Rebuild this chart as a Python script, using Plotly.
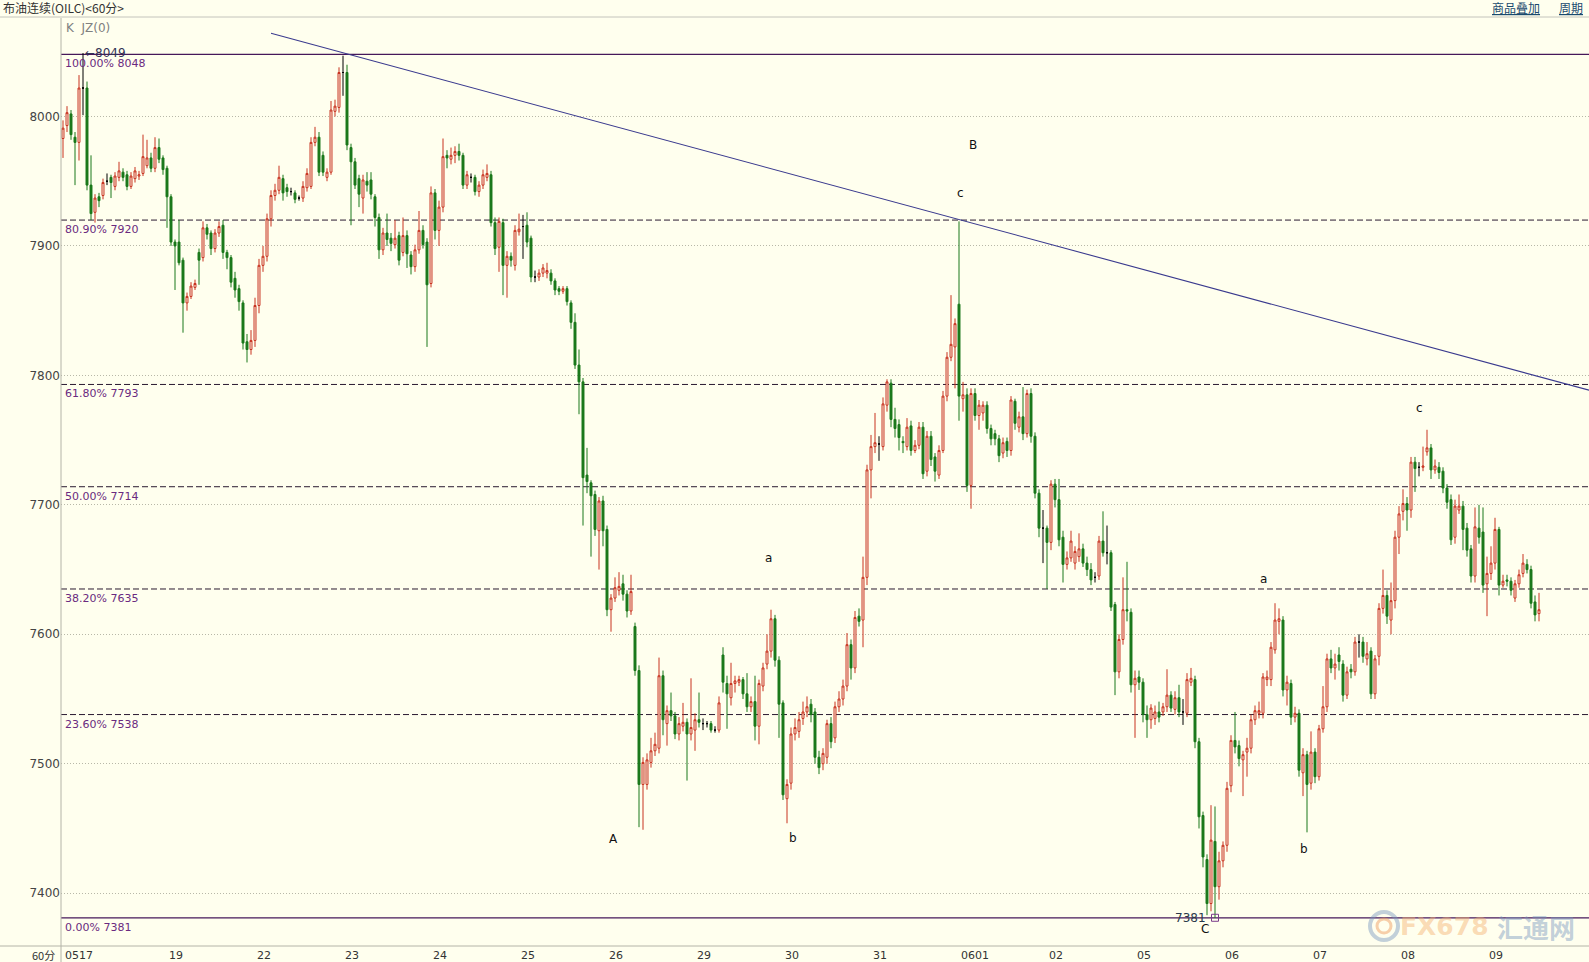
import plotly.graph_objects as go

# ---------------- data (hourly candles, index = bar number) ----------------
opens = [
 7983,7993,8002,7984,7980,8022,8022,7947,7926,7938, 7939,7950,7953,7946,7953,7957,7955,7946,7952,7954,
 7956,7962,7968,7960,7976,7968,7960,7938,7903,7903, 7889,7856,7861,7868,7895,7891,7914,7910,7898,7910,
 7916,7895,7891,7875,7867,7856,7826,7820,7827,7854, 7885,7892,7921,7939,7943,7952,7945,7942,7941,7937,
 7937,7945,7946,7980,7984,7970,7953,7957,8004,8007, 8034,8034,7976,7965,7952,7937,7950,7951,7938,7922,
 7897,7910,7906,7901,7908,7895,7908,7893,7884,7897, 7912,7903,7871,7941,7912,7930,7970,7967,7970,7973,
 7970,7947,7953,7953,7942,7947,7953,7955,7918,7899, 7918,7885,7892,7885,7911,7915,7916,7906,7876,7876,
 7879,7879,7879,7873,7867,7865,7867,7856,7841,7808, 7795,7723,7717,7708,7680,7703,7681,7619,7628,7634,
 7639,7631,7618,7606,7572,7484,7484,7501,7510,7512, 7568,7531,7541,7537,7523,7529,7532,7523,7526,7534,
 7531,7531,7531,7526,7526,7584,7562,7551,7562,7563, 7565,7554,7544,7548,7529,7560,7577,7587,7612,7580,
 7547,7473,7485,7523,7525,7535,7540,7546,7540,7505, 7500,7505,7531,7520,7544,7550,7560,7592,7574,7614,
 7611,7644,7727,7745,7747,7745,7777,7794,7766,7762, 7749,7745,7761,7742,7746,7760,7726,7753,7737,7723,
 7742,7784,7814,7822,7855,7782,7785,7715,7786,7769, 7771,7777,7759,7755,7751,7740,7749,7742,7780,7760,
 7768,7755,7786,7753,7709,7682,7682,7671,7716,7704, 7675,7654,7659,7655,7660,7666,7655,7650,7644,7645,
 7672,7663,7663,7623,7571,7596,7619,7617,7561,7567, 7563,7538,7534,7535,7540,7540,7544,7553,7542,7551,
 7540,7539,7563,7565,7517,7460,7426,7392,7440,7405, 7425,7437,7483,7518,7514,7503,7509,7512,7534,7539,
 7539,7565,7565,7588,7610,7611,7557,7562,7536,7539, 7493,7507,7485,7509,7490,7527,7544,7581,7574,7584,
 7577,7553,7573,7571,7594,7594,7581,7587,7554,7583, 7620,7630,7611,7626,7675,7695,7701,7696,7733,7729,
 7729,7741,7744,7727,7729,7726,7713,7704,7675,7696, 7699,7682,7666,7645,7682,7679,7639,7647,7655,7681,
 7638,7642,7641,7628,7639,7647,7654,7650,7625,7616]
highs = [
 7997,8008,8005,7988,8032,8049,8027,7970,7940,7941, 7952,7956,7955,7957,7965,7960,7958,7957,7961,7958,
 7986,7982,7972,7984,7983,7970,7962,7940,7905,7920, 7891,7864,7872,7874,7898,7919,7917,7912,7913,7919,
 7920,7897,7893,7880,7870,7858,7832,7835,7860,7890, 7900,7925,7943,7948,7962,7955,7948,7945,7943,7939,
 7950,7960,7984,7992,7988,7973,7960,8012,8013,8038, 8047,8040,7979,7968,7955,7955,7957,7957,7940,7925,
 7914,7925,7910,7920,7911,7922,7912,7896,7901,7927, 7916,7906,7946,7944,7935,7983,7974,7976,7977,7979,
 7972,7958,7956,7955,7950,7959,7963,7958,7922,7922, 7921,7896,7895,7916,7925,7924,7926,7908,7881,7882,
 7886,7887,7882,7875,7869,7869,7869,7858,7848,7820, 7798,7744,7719,7711,7706,7707,7684,7631,7644,7648,
 7646,7634,7646,7609,7576,7505,7508,7520,7524,7582, 7572,7545,7555,7540,7536,7547,7535,7566,7539,7555,
 7535,7533,7533,7529,7552,7590,7568,7578,7568,7568, 7567,7570,7552,7568,7565,7578,7600,7619,7615,7583,
 7549,7488,7528,7535,7540,7548,7552,7550,7543,7510, 7512,7534,7536,7548,7556,7565,7601,7596,7618,7620,
 7660,7731,7754,7771,7753,7783,7797,7797,7775,7766, 7753,7767,7765,7750,7764,7764,7757,7757,7740,7746,
 7788,7818,7862,7844,7919,7795,7790,7790,7790,7781, 7780,7780,7762,7758,7754,7752,7752,7784,7782,7772,
 7791,7789,7790,7756,7712,7696,7684,7719,7720,7720, 7680,7664,7680,7668,7678,7670,7660,7655,7648,7676,
 7695,7684,7665,7625,7600,7644,7656,7620,7572,7572, 7566,7545,7546,7545,7548,7547,7573,7556,7556,7561,
 7550,7570,7574,7568,7520,7463,7430,7468,7467,7432, 7440,7486,7522,7540,7518,7510,7520,7538,7545,7548,
 7570,7572,7594,7624,7620,7614,7568,7565,7544,7542, 7512,7510,7525,7512,7530,7560,7585,7588,7585,7590,
 7580,7575,7577,7598,7600,7598,7594,7590,7584,7624, 7650,7634,7640,7680,7699,7712,7706,7737,7737,7733,
 7745,7758,7747,7735,7733,7729,7716,7708,7704,7708, 7703,7686,7669,7698,7700,7698,7660,7668,7690,7683,
 7646,7646,7644,7642,7650,7662,7658,7653,7630,7632]
lows = [
 7968,7988,7982,7947,7966,8001,7943,7920,7918,7930, 7936,7947,7937,7943,7950,7950,7943,7944,7949,7951,
 7954,7960,7957,7957,7964,7955,7914,7900,7866,7885, 7833,7850,7859,7866,7870,7888,7905,7893,7895,7907,
 7890,7882,7868,7860,7850,7820,7810,7816,7822,7848, 7880,7888,7915,7935,7940,7935,7938,7939,7933,7935,
 7934,7942,7944,7977,7954,7954,7950,7955,8000,8003, 8016,7974,7916,7944,7930,7925,7942,7936,7915,7890,
 7893,7900,7896,7898,7885,7892,7883,7878,7880,7894, 7898,7822,7868,7905,7900,7926,7960,7963,7964,7966,
 7944,7944,7949,7939,7938,7944,7950,7915,7893,7880, 7862,7860,7884,7881,7908,7890,7899,7872,7872,7873,
 7876,7875,7870,7862,7862,7863,7854,7836,7805,7770, 7684,7709,7660,7676,7650,7668,7614,7602,7625,7630,
 7626,7613,7615,7568,7451,7449,7480,7497,7506,7508, 7522,7514,7533,7519,7518,7525,7487,7518,7510,7528,
 7526,7528,7524,7524,7524,7555,7527,7545,7555,7560, 7550,7540,7540,7518,7515,7556,7573,7582,7575,7520,
 7472,7454,7480,7518,7520,7530,7536,7532,7500,7492, 7495,7500,7512,7516,7540,7545,7556,7565,7570,7606,
 7590,7638,7705,7740,7734,7742,7772,7760,7752,7742, 7740,7742,7738,7740,7743,7720,7722,7730,7718,7720,
 7740,7780,7811,7790,7765,7772,7710,7697,7765,7758, 7765,7755,7746,7746,7733,7736,7737,7738,7758,7756,
 7750,7752,7748,7705,7675,7655,7635,7665,7698,7668, 7640,7650,7656,7650,7656,7652,7645,7638,7640,7642,
 7660,7654,7618,7553,7566,7592,7610,7555,7520,7557, 7532,7520,7527,7530,7532,7537,7540,7540,7538,7536,
 7530,7536,7560,7512,7450,7420,7383,7386,7381,7395, 7420,7432,7478,7508,7498,7475,7490,7508,7530,7535,
 7535,7560,7560,7585,7600,7552,7545,7530,7532,7490, 7475,7447,7480,7485,7487,7524,7540,7570,7565,7572,
 7548,7550,7566,7568,7582,7578,7576,7550,7550,7576, 7616,7608,7600,7620,7662,7688,7680,7690,7710,7722,
 7726,7738,7720,7724,7720,7709,7697,7669,7670,7693, 7665,7660,7640,7640,7670,7632,7614,7642,7650,7630,
 7636,7637,7630,7625,7636,7644,7647,7620,7610,7610]
closes = [
 7991,8003,7986,7980,8022,8022,7947,7925,7937,7935, 7949,7950,7949,7954,7958,7953,7946,7954,7958,7955,
 7969,7968,7960,7976,7967,7959,7938,7903,7900,7887, 7856,7861,7869,7871,7889,7914,7909,7898,7910,7915,
 7895,7891,7872,7866,7857,7825,7820,7827,7854,7885, 7892,7921,7939,7943,7953,7941,7942,7942,7936,7937,
 7946,7956,7980,7984,7957,7957,7957,8005,8008,8034, 8034,7978,7965,7947,7940,7951,7947,7940,7922,7897,
 7910,7905,7902,7906,7889,7908,7894,7884,7897,7912, 7901,7870,7941,7912,7930,7969,7968,7970,7973,7970,
 7947,7955,7953,7942,7947,7955,7956,7918,7898,7919, 7885,7892,7889,7912,7913,7915,7903,7876,7876,7879,
 7883,7881,7873,7866,7865,7867,7857,7841,7808,7795, 7721,7718,7707,7681,7703,7680,7619,7628,7636,7637,
 7631,7618,7633,7572,7484,7501,7503,7510,7515,7568, 7534,7541,7537,7523,7531,7532,7523,7528,7534,7532,
 7531,7531,7526,7526,7547,7563,7554,7562,7564,7565, 7554,7544,7548,7529,7562,7574,7587,7612,7580,7546,
 7476,7484,7523,7528,7534,7540,7544,7538,7505,7497, 7508,7531,7517,7544,7550,7560,7592,7574,7613,7610,
 7644,7727,7745,7748,7747,7778,7795,7766,7759,7752, 7748,7760,7742,7746,7760,7724,7753,7735,7726,7742,
 7784,7814,7824,7840,7784,7785,7715,7786,7769,7777, 7777,7759,7751,7751,7738,7748,7742,7781,7763,7768,
 7755,7786,7753,7709,7682,7682,7671,7716,7704,7673, 7654,7659,7672,7664,7666,7655,7650,7642,7644,7672,
 7663,7663,7621,7571,7596,7619,7618,7561,7566,7563, 7538,7534,7543,7540,7536,7544,7553,7543,7551,7540,
 7540,7565,7566,7517,7459,7428,7392,7441,7405,7425, 7437,7481,7518,7513,7504,7507,7512,7534,7541,7541,
 7567,7567,7590,7611,7612,7557,7563,7536,7539,7495, 7507,7484,7509,7490,7527,7544,7581,7574,7577,7579,
 7553,7571,7571,7594,7594,7583,7585,7554,7581,7620, 7630,7614,7626,7675,7693,7701,7696,7733,7728,7729,
 7730,7744,7727,7730,7725,7713,7702,7673,7699,7699, 7681,7665,7645,7683,7675,7638,7647,7655,7681,7638,
 7641,7641,7634,7639,7646,7655,7650,7624,7615,7619]

day_labels = ["0517", "19", "22", "23", "24", "25", "26", "29", "30", "31",
              "0601", "02", "05", "06", "07", "08", "09"]
day_start = [0, 26, 48, 70, 92, 114, 136, 158, 180, 202, 224, 246, 268, 290, 312, 334, 356]

y_ticks = [7400, 7500, 7600, 7700, 7800, 7900, 8000]

fib_pct = ["100.00%", "80.90%", "61.80%", "50.00%", "38.20%", "23.60%", "0.00%"]
fib_val = [8048, 7920, 7793, 7714, 7635, 7538, 7381]

trend_x = [52.0, 381.5]
trend_y = [8064.3, 7788.6]

wave_text = ["A", "b", "a", "c", "B", "C", "a", "b", "c"]
wave_x = [137.5, 182.4, 176.3, 224.4, 227.5, 285.5, 300.2, 310.3, 339.2]
wave_y = [7442, 7443, 7659, 7941, 7978, 7372, 7643, 7434, 7775]

high_mark = 8049
low_mark = 7381

# ---------------- styling ----------------
BG = "#FFFFEE"
RED = "#c8321f"
GREEN = "#1a781a"
FONT = "DejaVu Sans"
W, H = 1589, 962
L, R, T, B = 61, 0, 18, 16
PW, PH = W - L - R, H - T - B


def px(x):
    return (x - L) / PW


def py(y):
    return (H - B - y) / PH


idx = list(range(len(closes)))
groups = [
    ([i for i in idx if closes[i] > opens[i]], RED, BG),
    ([i for i in idx if closes[i] < opens[i]], GREEN, GREEN),
    ([i for i in idx if closes[i] == opens[i]], "#000000", "#000000"),
]

fig = go.Figure()
for sel, lc, fc in groups:
    fig.add_trace(go.Candlestick(
        x=sel,
        open=[opens[i] for i in sel], high=[highs[i] for i in sel],
        low=[lows[i] for i in sel], close=[closes[i] for i in sel],
        increasing=dict(line=dict(color=lc, width=1), fillcolor=fc),
        decreasing=dict(line=dict(color=lc, width=1), fillcolor=fc),
        whiskerwidth=0, hoverinfo="skip", showlegend=False))

# trend line
fig.add_trace(go.Scatter(x=trend_x, y=trend_y, mode="lines",
                         line=dict(color="#3a3a8e", width=1.1),
                         hoverinfo="skip", showlegend=False))

# low marker
fig.add_trace(go.Scatter(x=[idx[lows.index(min(lows))]], y=[min(lows)], mode="markers",
                         marker=dict(symbol="square-open", size=7, color="#7a3a8a",
                                     line=dict(width=1)),
                         hoverinfo="skip", showlegend=False))

shapes = []
annotations = []

# fib lines
for pct, v in zip(fib_pct, fib_val):
    solid = pct in ("100.00%", "0.00%")
    shapes.append(dict(type="line", xref="paper", yref="y", x0=0, x1=1, y0=v, y1=v,
                       line=dict(color="#46185a" if solid else "#2a1a30",
                                 width=1.2 if solid else 1,
                                 dash="solid" if solid else "6px,3px"),
                       layer="below"))
    annotations.append(dict(x=px(63), xref="paper", y=v, yref="y", xanchor="left",
                            yanchor="top", yshift=-1, showarrow=False,
                            text=f"{pct} {v}",
                            font=dict(family=FONT, size=11, color="#6a2a80")))

# frame lines
shapes.append(dict(type="line", xref="paper", yref="paper", x0=px(0), x1=1, y0=0, y1=0,
                   line=dict(color="#b4b4a8", width=1)))
shapes.append(dict(type="line", xref="paper", yref="paper", x0=0, x1=0, y0=py(H), y1=1,
                   line=dict(color="#b4b4a8", width=1)))
shapes.append(dict(type="line", xref="paper", yref="paper", x0=px(0), x1=1,
                   y0=py(17), y1=py(17), line=dict(color="#c4c4bc", width=1)))

# watermark
shapes.append(dict(type="circle", xref="paper", yref="paper",
                   x0=px(1370), x1=px(1398), y0=py(940), y1=py(912),
                   line=dict(color="rgba(120,150,190,0.45)", width=4)))
shapes.append(dict(type="circle", xref="paper", yref="paper",
                   x0=px(1377), x1=px(1391), y0=py(933), y1=py(919),
                   line=dict(color="rgba(240,160,100,0.5)", width=3)))
annotations.append(dict(x=px(1444), y=py(926), xref="paper", yref="paper", showarrow=False,
                        xanchor="center", yanchor="middle",
                        text="<b>FX678</b>", font=dict(family="DejaVu Sans", size=25,
                                                      color="rgba(245,175,110,0.45)")))
annotations.append(dict(x=px(1536), y=py(926), xref="paper", yref="paper", showarrow=False,
                        xanchor="center", yanchor="middle",
                        text="<b>汇通网</b>", font=dict(family="Noto Sans CJK SC", size=26,
                                                     color="rgba(120,150,190,0.45)")))

# day labels
for lab, d in zip(day_labels, day_start):
    annotations.append(dict(x=d - 0.1, xref="x", y=py(955), yref="paper", xanchor="left",
                            yanchor="middle", showarrow=False, text=lab,
                            font=dict(family=FONT, size=11, color="#333333")))
annotations.append(dict(x=px(30), y=py(955), xref="paper", yref="paper", xanchor="left",
                        yanchor="middle", showarrow=False, text="60分",
                        font=dict(family="Noto Sans CJK SC", size=11, color="#333333")))

# header
annotations.append(dict(x=px(1), y=py(8), xref="paper", yref="paper", xanchor="left",
                        yanchor="middle", showarrow=False, text="布油连续(OILC)<60分>",
                        font=dict(family="Noto Sans CJK SC", size=12, color="#333333")))
annotations.append(dict(x=px(1516), y=py(8), xref="paper", yref="paper", xanchor="center",
                        yanchor="middle", showarrow=False, text="<u>商品叠加</u>",
                        font=dict(family="Noto Sans CJK SC", size=12, color="#1a4a6e")))
annotations.append(dict(x=px(1571), y=py(8), xref="paper", yref="paper", xanchor="center",
                        yanchor="middle", showarrow=False, text="<u>周期</u>",
                        font=dict(family="Noto Sans CJK SC", size=12, color="#1a4a6e")))
annotations.append(dict(x=px(64), y=py(28), xref="paper", yref="paper", xanchor="left",
                        yanchor="middle", showarrow=False, text="K  JZ(0)",
                        font=dict(family=FONT, size=12, color="#808080")))

# high / low value labels
annotations.append(dict(x=5.0, y=8048, xref="x", yref="y", xanchor="left",
                        yanchor="middle", yshift=1, showarrow=False, text="←" + str(high_mark),
                        font=dict(family=FONT, size=12, color="#333355")))
annotations.append(dict(x=286.3, y=low_mark, xref="x", yref="y", xanchor="right",
                        yanchor="middle", showarrow=False, text=str(low_mark),
                        font=dict(family=FONT, size=12, color="#2a3a4a")))

# wave labels
for t, x, y in zip(wave_text, wave_x, wave_y):
    annotations.append(dict(x=x, y=y, xref="x", yref="y", showarrow=False, text=t,
                            font=dict(family=FONT, size=12, color="#111111")))

fig.update_layout(
    width=W, height=H,
    margin=dict(l=L, r=R, t=T, b=B, pad=0),
    paper_bgcolor=BG, plot_bgcolor=BG,
    showlegend=False,
    xaxis=dict(type="linear", range=[-0.5, 381.5], showgrid=False, zeroline=False,
               showticklabels=False, ticks="", showline=False,
               rangeslider=dict(visible=False)),
    yaxis=dict(range=[7359.2, 8076.1], tickvals=y_ticks, ticktext=[str(v) for v in y_ticks],
               showgrid=True, gridcolor="#b8b8a8", griddash="1px,2px", gridwidth=1,
               zeroline=False, showline=False, ticks="",
               tickfont=dict(family=FONT, size=12, color="#444444")),
    shapes=shapes,
    annotations=annotations,
)

fig.write_html(
    "out.html",
    config={"displayModeBar": False},
    post_script="document.body.style.margin='0';document.body.style.overflow='hidden';"
                "document.body.style.background='" + BG + "';",
)
